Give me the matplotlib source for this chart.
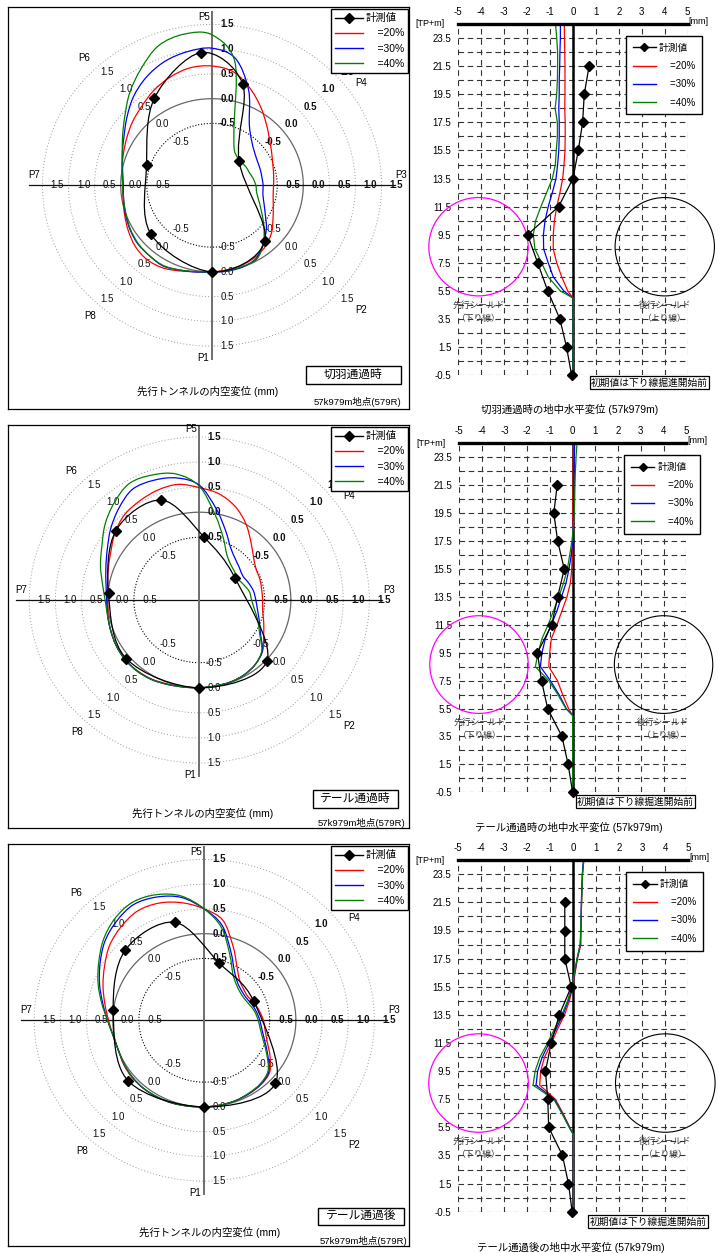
"""57k979m: lining convergence rings (left) and ground horizontal displacement profiles (right)."""

import numpy as np
import matplotlib
matplotlib.use("Agg")
import matplotlib.pyplot as plt
from matplotlib.lines import Line2D
from matplotlib.path import Path
from matplotlib.patches import PathPatch, Rectangle, Ellipse
from matplotlib.transforms import offset_copy

plt.rcParams["font.family"] = ["Liberation Sans", "Noto Sans CJK JP"]
plt.rcParams["axes.unicode_minus"] = False

FIG_W, FIG_H = 718, 1253

STAGES = ["切羽通過時", "テール通過時", "テール通過後"]
CALC_LABELS = ["=20%", "=30%", "=40%"]
CALC_COLORS = ["#ff0000", "#0000ff", "#008000"]

# ---- ring: radial displacement (mm), every 10 deg counter-clockwise from P3 ----
RING_ANGLES = list(range(0, 360, 10))

CUT_20 = [-0.57, -0.55, -0.51, -0.43, -0.31, -0.13, 0.10, 0.35, 0.58, 0.66, 0.66, 0.58,
          0.47, 0.34, 0.24, 0.14, 0.06, 0.00, -0.04, -0.02, 0.03, 0.10, 0.17, 0.20,
          0.17, 0.09, 0.02, 0.00, -0.02, -0.04, -0.08, -0.15, -0.26, -0.40, -0.50, -0.56]
CUT_30 = [-0.77, -0.78, -0.77, -0.75, -0.69, -0.57, -0.32, 0.30, 0.85, 1.02, 0.99, 0.91,
          0.77, 0.59, 0.38, 0.20, 0.08, -0.01, -0.05, -0.03, 0.01, 0.06, 0.10, 0.11,
          0.13, 0.07, 0.03, 0.00, 0.01, 0.00, -0.05, -0.22, -0.39, -0.57, -0.69, -0.76]
CUT_40 = [-0.91, -0.95, -0.99, -1.00, -1.02, -1.00, -0.90, -0.52, 0.78, 1.29, 1.35, 1.25,
          0.97, 0.70, 0.43, 0.23, 0.08, 0.00, -0.04, -0.03, 0.00, 0.05, 0.09, 0.11,
          0.12, 0.07, 0.02, 0.00, 0.00, -0.01, -0.03, -0.22, -0.45, -0.65, -0.79, -0.88]

TAIL_20 = [-0.54, -0.54, -0.52, -0.50, -0.40, -0.22, 0.02, 0.24, 0.40, 0.49, 0.59, 0.58,
           0.53, 0.47, 0.35, 0.20, 0.10, 0.03, 0.00, 0.02, 0.05, 0.08, 0.10, 0.09,
           0.07, 0.03, 0.01, 0.00, -0.01, -0.01, -0.03, -0.08, -0.17, -0.33, -0.44, -0.52]
TAIL_30 = [-0.67, -0.70, -0.75, -0.79, -0.75, -0.68, -0.55, -0.28, 0.10, 0.54, 0.72, 0.79,
           0.80, 0.64, 0.46, 0.28, 0.15, 0.06, 0.02, 0.03, 0.05, 0.08, 0.10, 0.10,
           0.08, 0.04, 0.01, 0.00, -0.01, -0.01, -0.03, -0.08, -0.18, -0.40, -0.53, -0.62]
TAIL_40 = [-0.75, -0.78, -0.85, -0.90, -0.87, -0.82, -0.70, -0.42, -0.02, 0.52, 0.80, 0.90,
           0.93, 0.78, 0.60, 0.40, 0.26, 0.13, 0.05, 0.03, 0.05, 0.08, 0.10, 0.10,
           0.08, 0.04, 0.01, 0.00, -0.01, -0.01, -0.03, -0.08, -0.19, -0.42, -0.56, -0.68]

AFTER_20 = [-0.62, -0.68, -0.73, -0.79, -0.77, -0.70, -0.50, -0.15, 0.30, 0.50, 0.66, 0.77,
            0.80, 0.72, 0.61, 0.45, 0.31, 0.18, 0.08, 0.02, 0.00, 0.03, 0.05, 0.05,
            0.05, 0.03, 0.01, 0.00, -0.01, -0.02, -0.04, -0.06, -0.12, -0.30, -0.47, -0.57]
AFTER_30 = [-0.69, -0.74, -0.79, -0.83, -0.82, -0.76, -0.60, -0.27, 0.20, 0.50, 0.77, 0.90,
            0.95, 0.86, 0.73, 0.55, 0.38, 0.22, 0.10, 0.02, 0.00, 0.02, 0.04, 0.05,
            0.04, 0.03, 0.01, 0.00, -0.01, -0.02, -0.04, -0.07, -0.14, -0.35, -0.52, -0.63]
AFTER_40 = [-0.72, -0.77, -0.83, -0.87, -0.86, -0.80, -0.66, -0.33, 0.15, 0.50, 0.80, 0.95,
            1.00, 0.92, 0.77, 0.58, 0.41, 0.24, 0.10, 0.02, 0.00, 0.02, 0.04, 0.05,
            0.04, 0.03, 0.01, 0.00, -0.01, -0.02, -0.05, -0.08, -0.16, -0.37, -0.55, -0.66]

# measured points P1..P8: direction (deg) and radial displacement (mm)
CUT_MEAS_ANG = [270, 312, 44, 74, 94.5, 122, 162, 220]
CUT_MEAS_DISP = [0.00, -0.24, -1.03, 0.38, 0.94, 0.33, -0.43, -0.22]
TAIL_MEAS_ANG = [270, 317, 32, 86, 110, 139, 175.5, 220]
TAIL_MEAS_DISP = [0.00, 0.02, -0.94, -0.49, 0.37, 0.36, -0.01, 0.07]
AFTER_MEAS_ANG = [270, 317, 22, 76, 106, 137, 173.5, 220]
AFTER_MEAS_DISP = [0.00, 0.11, -0.73, -0.56, 0.31, 0.32, 0.00, 0.15]

# ---- profile: horizontal displacement (mm) against elevation TP+m ----
PROF_DEPTH_MEAS = [21.5, 19.5, 17.5, 15.5, 13.5, 11.5, 9.5, 7.5, 5.5, 3.5, 1.5, -0.5]
PROF_DEPTH_CALC = [24.5, 23.5, 22.5, 21.5, 20.5, 19.5, 18.5, 17.5, 16.5, 15.5, 14.5,
                   13.5, 12.5, 11.5, 10.5, 9.5, 8.5, 7.5, 6.5, 5.5, 5.0, -0.5]

CUT_PROF_MEAS = [0.70, 0.49, 0.42, 0.23, 0.00, -0.63, -1.98, -1.54, -1.10, -0.57, -0.28, -0.06]
CUT_PROF_20 = [-0.38, -0.37, -0.36, -0.35, -0.35, -0.35, -0.36, -0.34, -0.34, -0.35, -0.39,
               -0.45, -0.57, -0.71, -0.81, -0.86, -0.86, -0.71, -0.49, -0.23, 0.0, 0.0]
CUT_PROF_30 = [-0.55, -0.55, -0.57, -0.58, -0.60, -0.60, -0.62, -0.60, -0.60, -0.62, -0.67,
               -0.74, -0.90, -1.08, -1.22, -1.29, -1.28, -1.08, -0.86, -0.40, 0.0, 0.0]
CUT_PROF_40 = [-0.76, -0.71, -0.67, -0.67, -0.68, -0.71, -0.78, -0.68, -0.68, -0.73, -0.77,
               -0.90, -1.15, -1.40, -1.63, -1.73, -1.66, -1.37, -1.08, -0.55, 0.0, 0.0]

TAIL_PROF_MEAS = [-0.68, -0.83, -0.66, -0.37, -0.66, -0.92, -1.55, -1.37, -1.10, -0.47, -0.20, 0.00]
TAIL_PROF_20 = [0.03, 0.03, 0.02, 0.02, 0.01, 0.01, 0.00, 0.00, -0.02, -0.04, -0.10,
                -0.25, -0.47, -0.69, -0.94, -1.01, -1.05, -0.67, -0.44, -0.18, 0.0, 0.0]
TAIL_PROF_30 = [0.09, 0.07, 0.06, 0.06, 0.04, 0.04, 0.03, 0.00, -0.06, -0.16, -0.29,
                -0.49, -0.69, -0.94, -1.20, -1.35, -1.42, -0.98, -0.60, -0.28, 0.0, 0.0]
TAIL_PROF_40 = [0.19, 0.15, 0.12, 0.10, 0.09, 0.07, 0.03, -0.03, -0.13, -0.23, -0.40,
                -0.61, -0.84, -1.08, -1.35, -1.52, -1.64, -1.05, -0.65, -0.30, 0.0, 0.0]

AFTER_PROF_MEAS = [-0.37, -0.37, -0.37, -0.09, -0.61, -0.96, -1.21, -1.11, -1.07, -0.47, -0.21, -0.05]
AFTER_PROF_20 = [0.46, 0.40, 0.38, 0.36, 0.34, 0.33, 0.33, 0.18, 0.08, -0.02, -0.17,
                 -0.38, -0.68, -0.95, -1.25, -1.42, -1.46, -0.78, -0.45, -0.15, 0.0, 0.0]
AFTER_PROF_30 = [0.44, 0.39, 0.37, 0.35, 0.34, 0.33, 0.30, 0.17, 0.06, -0.04, -0.22,
                 -0.45, -0.75, -1.05, -1.35, -1.55, -1.62, -0.82, -0.48, -0.17, 0.0, 0.0]
AFTER_PROF_40 = [0.45, 0.40, 0.38, 0.36, 0.34, 0.32, 0.30, 0.16, 0.05, -0.06, -0.25,
                 -0.50, -0.82, -1.12, -1.45, -1.66, -1.75, -0.85, -0.50, -0.18, 0.0, 0.0]

PROF_YTICKS = [23.5, 21.5, 19.5, 17.5, 15.5, 13.5, 11.5, 9.5, 7.5, 5.5, 3.5, 1.5, -0.5]

# ---- layout (pixels) ----
RING_GEO = [
    dict(box=(8, 7, 409, 409), center=(212.0, 185.3), scale=(52.17, 49.5)),
    dict(box=(8, 425, 409, 828), center=(199.3, 600.0), scale=(52.33, 50.17)),
    dict(box=(8, 844, 409, 1246), center=(204.3, 1020.3), scale=(52.33, 49.5)),
]
STAGE_BOX = [(306, 366, 401, 384), (313, 790, 398, 808), (318, 1208, 404, 1225)]
RING_CAPTION = [(208, 391), (203, 813), (210, 1232)]
RING_SITE = [(401, 402), (405, 823), (407, 1241)]

PROF_BOX = [(458.3, 24.0, 687.7, 375.3), (459.0, 443.3, 686.3, 792.3), (458.3, 860.2, 688.3, 1211.7)]
NOTE_CENTER = [(649.5, 382.5), (635.5, 801.5), (648.0, 1221.5)]
PROF_TITLE = [(570, 409.5), (569, 827.5), (570.5, 1247.5)]

RING_R0 = 1.75
RING_LEVELS = [-0.5, 0.0, 0.5, 1.0, 1.5]
SPOKES = list(range(0, 360, 45))
P_NAMES = ["P1", "P2", "P3", "P4", "P5", "P6", "P7", "P8"]
P_POS = [(-0.17, -3.49), (2.86, -2.52), (3.62, 0.20), (2.86, 2.07),
         (-0.16, 3.40), (-2.45, 2.58), (-3.40, 0.20), (-2.33, -2.64)]


def fig_xy(x, y):
    return x / FIG_W, 1 - y / FIG_H


def ring_xy(ang_deg, disp):
    t = np.radians(np.asarray(ang_deg, float))
    r = RING_R0 + np.asarray(disp, float)
    return r * np.cos(t), r * np.sin(t)


def smooth_closed_path(x, y):
    # closed Catmull-Rom curve through the points, as cubic Bezier segments
    pts = np.column_stack([x, y])
    n = len(pts)
    verts, codes = [pts[0]], [Path.MOVETO]
    for i in range(n):
        p0, p1, p2, p3 = pts[i - 1], pts[i], pts[(i + 1) % n], pts[(i + 2) % n]
        verts += [p1 + (p2 - p0) / 6.0, p2 - (p3 - p1) / 6.0, p2]
        codes += [Path.CURVE4] * 3
    return Path(verts, codes)


def draw_ring(fig, i, calc, meas_ang, meas_disp):
    geo = RING_GEO[i]
    (l, t, r, b), (cx, cy), (kx, ky) = geo["box"], geo["center"], geo["scale"]
    ax = fig.add_axes([l / FIG_W, 1 - b / FIG_H, (r - l) / FIG_W, (b - t) / FIG_H])
    ax.set_xlim((l - cx) / kx, (r - cx) / kx)
    ax.set_ylim((cy - b) / ky, (cy - t) / ky)
    ax.set_xticks([])
    ax.set_yticks([])
    for s in ax.spines.values():
        s.set_linewidth(0.9)
        s.set_color("black")

    sweep = np.linspace(0, 360, 721)
    for lev in RING_LEVELS:
        x, y = ring_xy(sweep, np.full_like(sweep, lev))
        if lev == 0:
            ax.plot(x, y, color="#666666", lw=0.9, zorder=1)
        elif lev < 0:
            ax.plot(x, y, color="black", lw=0.8, ls=(0, (1, 1.6)), zorder=1)
        else:
            ax.plot(x, y, color="#9a9a9a", lw=0.7, ls=(0, (1, 2.2)), zorder=1)
    ax.plot([-3.5, 3.5], [0, 0], color="#111111", lw=0.9, zorder=2)
    ax.plot([0, 0], [-3.5, 3.5], color="#6e6e6e", lw=1.4, zorder=2)

    lab_tr = offset_copy(ax.transData, fig=fig, x=15, y=0, units="dots")
    for a in SPOKES:
        x, y = ring_xy([a] * len(RING_LEVELS), RING_LEVELS)
        for xi, yi, lev in zip(x, y, RING_LEVELS):
            ax.text(xi, yi, f"{lev:.1f}", transform=lab_tr, ha="center", va="center",
                    fontsize=7, color="#111111",
                    fontweight="bold" if a in (0, 45, 90) else "normal", zorder=3)
    for name, (px, py) in zip(P_NAMES, P_POS):
        ax.text(px, py, name, ha="center", va="center", fontsize=7, zorder=3)

    for vals, color in zip(calc, CALC_COLORS):
        x, y = ring_xy(RING_ANGLES, vals)
        ax.add_patch(PathPatch(smooth_closed_path(x, y), fill=False, ec=color, lw=0.9, zorder=4))
    x, y = ring_xy(meas_ang, meas_disp)
    ax.add_patch(PathPatch(smooth_closed_path(x, y), fill=False, ec="black", lw=0.9, zorder=5))
    ax.plot(x, y, ls="none", marker="D", ms=5, color="black", zorder=6)

    handles = [Line2D([], [], color="black", lw=1, marker="D", ms=5)]
    handles += [Line2D([], [], color=c, lw=1) for c in CALC_COLORS]
    labels = ["計測値"] + ["    " + s for s in CALC_LABELS]
    leg = ax.legend(handles, labels, loc="upper right", bbox_to_anchor=(0.998, 0.995),
                    fontsize=7.5, fancybox=False, edgecolor="black", framealpha=1,
                    borderpad=0.4, labelspacing=0.5, handlelength=2.6, handletextpad=0.3,
                    borderaxespad=0)
    leg.get_frame().set_linewidth(1.0)
    leg.set_zorder(10)

    bx0, by0, bx1, by1 = STAGE_BOX[i]
    x0, y0 = fig_xy(bx0, by1)
    x1, y1 = fig_xy(bx1, by0)
    fig.add_artist(Rectangle((x0, y0), x1 - x0, y1 - y0, transform=fig.transFigure,
                             fill=False, ec="black", lw=1.0))
    fig.text((x0 + x1) / 2, (y0 + y1) / 2, STAGES[i], ha="center", va="center", fontsize=8.5)
    fig.text(*fig_xy(*RING_CAPTION[i]), "先行トンネルの内空変位 (mm)",
             ha="center", va="center", fontsize=7.5)
    fig.text(*fig_xy(*RING_SITE[i]), "57k979m地点(579R)", ha="right", va="center", fontsize=6.8)


def draw_profile(fig, i, calc, meas):
    l, t, r, b = PROF_BOX[i]
    ax = fig.add_axes([l / FIG_W, 1 - b / FIG_H, (r - l) / FIG_W, (b - t) / FIG_H])
    ax.set_xlim(-5, 5)
    ax.set_ylim(-0.5, 24.5)
    for s in ax.spines.values():
        s.set_visible(False)

    for y in np.arange(-0.5, 24.0, 1.0):
        ax.plot([-5, 5], [y, y], color="#333333", lw=0.8, ls=(0, (5, 3.3)), zorder=1)
    for x in range(-5, 6):
        if x != 0:
            ax.plot([x, x], [-0.5, 24.5], color="#333333", lw=0.8, ls=(0, (5, 4.3)), zorder=1)
    ax.plot([-5, 5], [24.5, 24.5], color="black", lw=2.4, clip_on=False, zorder=6)
    ax.plot([0, 0], [-0.5, 24.5], color="black", lw=1.8, clip_on=False, zorder=2)

    ax.add_patch(Ellipse((-4.12, 8.65), 4.33, 7.0, fill=False, ec="#ff00ff", lw=0.9,
                         zorder=3, clip_on=False))
    ax.add_patch(Ellipse((4.0, 8.65), 4.33, 7.0, fill=False, ec="black", lw=0.8,
                         zorder=3, clip_on=False))
    for x, nm in ((-4.1, "先行シールド"), (4.0, "後行シールド")):
        ax.text(x, 4.5, nm, ha="center", va="center", fontsize=6.3, color="#333333", zorder=3)
    ax.text(-4.1, 3.55, "（下り線）", ha="center", va="center", fontsize=6.3, color="#333333", zorder=3)
    ax.text(4.0, 3.55, "（上り線）", ha="center", va="center", fontsize=6.3, color="#333333", zorder=3)

    for vals, color in zip(calc, CALC_COLORS):
        ax.plot(vals, PROF_DEPTH_CALC, color=color, lw=0.9, zorder=4)
    ax.plot(meas, PROF_DEPTH_MEAS, color="black", lw=0.9, marker="D", ms=4.8, zorder=5,
            clip_on=False)

    ax.xaxis.tick_top()
    ax.set_xticks(range(-5, 6))
    ax.set_xticklabels([str(v) for v in range(-5, 6)])
    ax.set_yticks(PROF_YTICKS)
    ax.set_yticklabels([f"{v:.1f}" for v in PROF_YTICKS])
    ax.tick_params(axis="x", length=0, pad=5, labelsize=7)
    ax.tick_params(axis="y", length=0, pad=5, labelsize=7)

    ax.text(0, 1, "[TP+m]", transform=offset_copy(ax.transAxes, fig=fig, x=-28, y=0, units="dots"),
            ha="center", va="center", fontsize=6.5)
    ax.text(1, 1, "[mm]", transform=offset_copy(ax.transAxes, fig=fig, x=11, y=3, units="dots"),
            ha="center", va="center", fontsize=6.5)

    handles = [Line2D([], [], color="black", lw=1, marker="D", ms=4.5)]
    handles += [Line2D([], [], color=c, lw=1) for c in CALC_COLORS]
    labels = ["計測値"] + ["    " + s for s in CALC_LABELS]
    leg = ax.legend(handles, labels, loc="upper right", bbox_to_anchor=(1.062, 0.966),
                    fontsize=7, fancybox=False, edgecolor="black", framealpha=1,
                    borderpad=0.7, labelspacing=0.85, handlelength=2.4, handletextpad=0.3,
                    borderaxespad=0)
    leg.get_frame().set_linewidth(1.0)
    leg.set_zorder(10)

    fig.text(*fig_xy(*NOTE_CENTER[i]), "初期値は下り線掘進開始前", ha="center", va="center",
             fontsize=7, bbox=dict(boxstyle="square,pad=0.15", fc="white", ec="black", lw=0.9))
    fig.text(*fig_xy(*PROF_TITLE[i]), f"{STAGES[i]}の地中水平変位 (57k979m)",
             ha="center", va="center", fontsize=7.5)


def main():
    fig = plt.figure(figsize=(FIG_W / 100, FIG_H / 100), dpi=100)

    rings = [
        ([CUT_20, CUT_30, CUT_40], CUT_MEAS_ANG, CUT_MEAS_DISP),
        ([TAIL_20, TAIL_30, TAIL_40], TAIL_MEAS_ANG, TAIL_MEAS_DISP),
        ([AFTER_20, AFTER_30, AFTER_40], AFTER_MEAS_ANG, AFTER_MEAS_DISP),
    ]
    profiles = [
        ([CUT_PROF_20, CUT_PROF_30, CUT_PROF_40], CUT_PROF_MEAS),
        ([TAIL_PROF_20, TAIL_PROF_30, TAIL_PROF_40], TAIL_PROF_MEAS),
        ([AFTER_PROF_20, AFTER_PROF_30, AFTER_PROF_40], AFTER_PROF_MEAS),
    ]
    for i in range(3):
        draw_ring(fig, i, *rings[i])
        draw_profile(fig, i, *profiles[i])

    fig.savefig("out.png", dpi=100)
    plt.close(fig)


if __name__ == "__main__":
    main()
